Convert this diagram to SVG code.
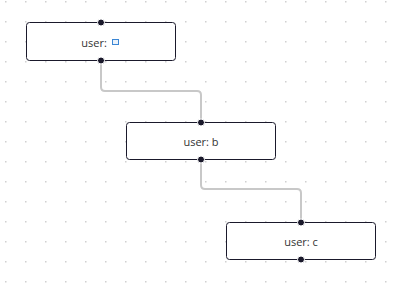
<svg xmlns="http://www.w3.org/2000/svg" width="397" height="288" viewBox="0 0 397 288">
<defs>
<pattern id="grid" x="5" y="1" width="20" height="20" patternUnits="userSpaceOnUse">
<rect x="0" y="0" width="1.5" height="1.5" fill="#d0d0d0"/>
</pattern>
<style>
.node rect.box{fill:#fff;stroke:#1a192b;stroke-width:1}
.node text{font-family:"Open Sans","Noto Sans",sans-serif;font-size:11px;fill:#333;text-anchor:middle;dominant-baseline:central}
.handle{fill:#1a192b;stroke:#fff;stroke-width:1}
.edge{fill:none;stroke:#c8c8c8;stroke-width:2}
</style>
</defs>
<rect width="397" height="288" fill="#fff"/>
<rect width="397" height="288" fill="url(#grid)"/>
<g id="connectors">
<path class="edge" d="M101 60 V87 Q101 91 105 91 H197 Q201 91 201 95 V122"/>
<path class="edge" d="M201 159 V185 Q201 189 205 189 H297 Q301 189 301 193 V222"/>
</g>
<g id="node-a" class="node">
<rect class="box" x="26.5" y="22.5" width="149" height="38" rx="3"/>
<text x="94" y="42">user:</text>
<rect x="112.5" y="39.5" width="6" height="5" fill="#eaf2fb" stroke="#3b86d4" stroke-width="1"/>
<circle class="handle" cx="101" cy="22.5" r="3.5"/>
<circle class="handle" cx="101" cy="60.5" r="3.5"/>
</g>
<g id="node-b" class="node">
<rect class="box" x="126.5" y="122.5" width="149" height="37" rx="3"/>
<text x="201" y="141">user: b</text>
<circle class="handle" cx="201" cy="122.5" r="3.5"/>
<circle class="handle" cx="201" cy="159.5" r="3.5"/>
</g>
<g id="node-c" class="node">
<rect class="box" x="226.5" y="222.5" width="149" height="37" rx="3"/>
<text x="301" y="241">user: c</text>
<circle class="handle" cx="301" cy="222.5" r="3.5"/>
<circle class="handle" cx="301" cy="259.5" r="3.5"/>
</g>
</svg>
